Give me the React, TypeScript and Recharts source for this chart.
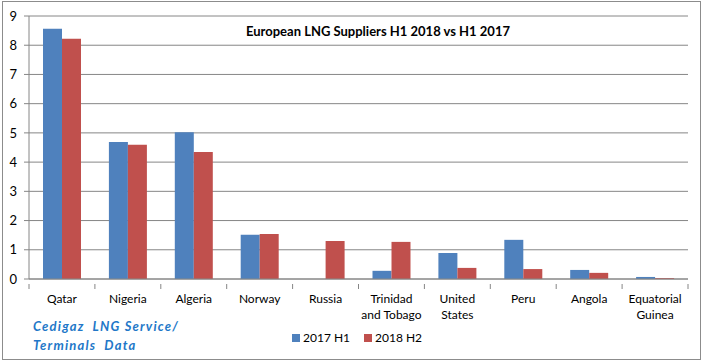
import { BarChart, Bar, XAxis, YAxis, CartesianGrid, Legend } from "recharts"

const countries = [
  "Qatar",
  "Nigeria",
  "Algeria",
  "Norway",
  "Russia",
  "Trinidad\nand Tobago",
  "United\nStates",
  "Peru",
  "Angola",
  "Equatorial\nGuinea",
]
const h1_2017 = [8.56, 4.69, 5.02, 1.51, 0, 0.28, 0.89, 1.34, 0.31, 0.07]
const h2_2018 = [8.22, 4.59, 4.35, 1.54, 1.3, 1.27, 0.38, 0.34, 0.21, 0.03]
const yTicks = [0, 1, 2, 3, 4, 5, 6, 7, 8, 9]

const data = countries.map((name, i) => ({
  name,
  h1: h1_2017[i],
  h2: h2_2018[i],
}))

const FONT = "Lato, 'Open Sans', sans-serif"
const AXIS = "#868686"
const BLUE = "#4F81BD"
const RED = "#C0504D"

const PLOT_LEFT = 29
const PLOT_RIGHT = 688
const BAND = (PLOT_RIGHT - PLOT_LEFT) / countries.length

const CountryTick = (props: any) => {
  const { x, y, payload, index } = props
  const lines = String(payload.value).split("\n")
  const axisY = y - 3
  return (
    <g>
      <line x1={x - BAND / 2} x2={x - BAND / 2} y1={axisY} y2={axisY + 5} stroke={AXIS} />
      {index === countries.length - 1 && (
        <line x1={x + BAND / 2} x2={x + BAND / 2} y1={axisY} y2={axisY + 5} stroke={AXIS} />
      )}
      <text x={x} y={axisY + 19} textAnchor="middle" fontSize={12} fontFamily={FONT} fill="#000">
        {lines.map((l, k) => (
          <tspan key={k} x={x} dy={k === 0 ? 0 : 16}>
            {l}
          </tspan>
        ))}
      </text>
    </g>
  )
}

const LegendBox = () => (
  <div style={{ display: "flex", alignItems: "center", fontFamily: FONT, fontSize: 12, color: "#000" }}>
    <span style={{ width: 8, height: 8, background: BLUE, display: "inline-block", marginRight: 3 }} />
    <span style={{ marginRight: 14 }}>2017 H1</span>
    <span style={{ width: 8, height: 8, background: RED, display: "inline-block", marginRight: 3 }} />
    <span>2018 H2</span>
  </div>
)

export default function App() {
  return (
    <div style={{ position: "relative", width: 704, height: 364, background: "#fff" }}>
      <style>{`body{margin:0}`}</style>
      <div
        style={{
          position: "absolute",
          left: 2,
          top: 1,
          width: 699,
          height: 359,
          border: "1px solid #8c8c8c",
          boxSizing: "border-box",
        }}
      />
      <div style={{ position: "absolute", left: 0, top: 0 }}>
        <BarChart
          width={704}
          height={364}
          data={data}
          margin={{ top: 16, right: 704 - PLOT_RIGHT, left: 0, bottom: 0 }}
          barGap={0}
          barSize={19}
        >
          <CartesianGrid vertical={false} stroke={AXIS} strokeWidth={1} />
          <XAxis
            dataKey="name"
            interval={0}
            height={85}
            axisLine={{ stroke: AXIS }}
            tickLine={false}
            tick={<CountryTick />}
          />
          <YAxis
            width={PLOT_LEFT}
            domain={[0, 9]}
            ticks={yTicks}
            interval={0}
            axisLine={{ stroke: AXIS }}
            tickLine={{ stroke: AXIS }}
            tickSize={5}
            tickMargin={7}
            tick={{ fontSize: 13, fontFamily: FONT, fill: "#000" }}
          />
          <Legend
            layout="horizontal"
            verticalAlign="middle"
            align="center"
            content={<LegendBox />}
            wrapperStyle={{ top: 330, left: 292, width: "auto" }}
          />
          <Bar dataKey="h1" name="2017 H1" fill={BLUE} isAnimationActive={false} />
          <Bar dataKey="h2" name="2018 H2" fill={RED} isAnimationActive={false} />
        </BarChart>
      </div>
      <div
        style={{
          position: "absolute",
          left: 0,
          top: 23,
          width: 756,
          textAlign: "center",
          fontFamily: FONT,
          fontWeight: 700,
          fontSize: 13,
          color: "#000",
        }}
      >
        European LNG Suppliers H1 2018 vs H1 2017
      </div>
      <div
        style={{
          position: "absolute",
          left: 33,
          top: 317,
          fontFamily: FONT,
          fontWeight: 700,
          fontStyle: "italic",
          fontSize: 13,
          letterSpacing: 1.2,
          lineHeight: "19px",
          color: "#2277C8",
          whiteSpace: "pre",
        }}
      >
        {"Cedigaz  LNG Service/\nTerminals  Data"}
      </div>
    </div>
  )
}
